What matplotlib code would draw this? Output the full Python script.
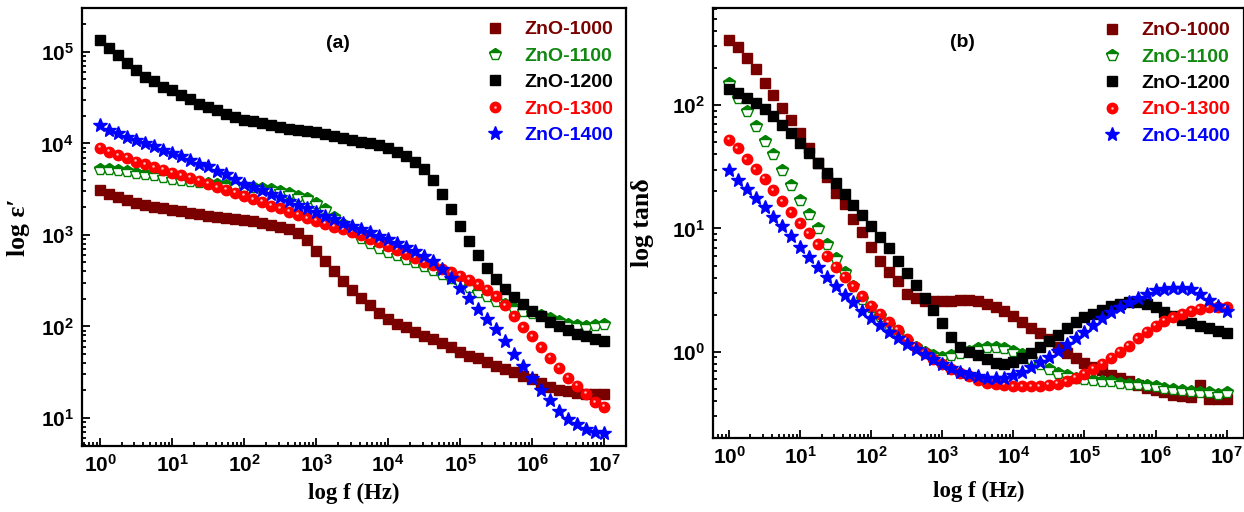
import numpy as np
import matplotlib
matplotlib.use('Agg')
import matplotlib.pyplot as plt
from matplotlib.ticker import FuncFormatter, FixedLocator, LogLocator, NullFormatter
from matplotlib.legend_handler import HandlerTuple
from matplotlib.transforms import offset_copy

plt.rcParams['mathtext.fontset'] = 'custom'
plt.rcParams['mathtext.bf'] = 'Liberation Sans:bold'
plt.rcParams['mathtext.rm'] = 'Liberation Sans:bold'

# measurement grid: 8 points per decade, 1 Hz .. 10 MHz
freq = 10 ** (np.arange(57) / 8)

samples = ['ZnO-1000', 'ZnO-1100', 'ZnO-1200', 'ZnO-1300', 'ZnO-1400']

# (a) log10 of dielectric constant
eps_1000 = [3.49,
            3.45, 3.41, 3.38, 3.35, 3.33, 3.31, 3.29, 3.27,
            3.26, 3.24, 3.23, 3.21, 3.20, 3.19, 3.17, 3.16,
            3.15, 3.13, 3.11, 3.09, 3.06, 3.02, 2.94, 2.82,
            2.72, 2.61, 2.50, 2.40, 2.31, 2.23, 2.15, 2.08,
            2.03, 1.99, 1.94, 1.90, 1.86, 1.82, 1.77, 1.72,
            1.68, 1.65, 1.61, 1.57, 1.54, 1.50, 1.46, 1.42,
            1.38, 1.34, 1.31, 1.29, 1.27, 1.26, 1.26, 1.26]
eps_1100 = [3.72,
            3.72, 3.71, 3.70, 3.68, 3.67, 3.65, 3.63, 3.61,
            3.60, 3.59, 3.58, 3.57, 3.56, 3.55, 3.54, 3.53,
            3.52, 3.51, 3.50, 3.48, 3.46, 3.43, 3.40, 3.35,
            3.28, 3.20, 3.12, 3.04, 2.97, 2.91, 2.86, 2.81,
            2.78, 2.74, 2.70, 2.66, 2.62, 2.57, 2.53, 2.48,
            2.43, 2.38, 2.33, 2.28, 2.24, 2.20, 2.17, 2.15,
            2.12, 2.09, 2.06, 2.03, 2.01, 2.00, 2.01, 2.03]
eps_1200 = [5.13,
            5.04, 4.97, 4.88, 4.80, 4.73, 4.68, 4.62, 4.58,
            4.53, 4.48, 4.43, 4.40, 4.36, 4.32, 4.29, 4.26,
            4.24, 4.22, 4.20, 4.18, 4.16, 4.15, 4.13, 4.12,
            4.10, 4.08, 4.06, 4.04, 4.02, 4.00, 3.98, 3.95,
            3.91, 3.86, 3.80, 3.72, 3.60, 3.45, 3.28, 3.10,
            2.93, 2.78, 2.64, 2.52, 2.41, 2.32, 2.24, 2.17,
            2.11, 2.05, 2.00, 1.96, 1.92, 1.89, 1.86, 1.84]
eps_1300 = [3.95,
            3.91, 3.87, 3.84, 3.80, 3.77, 3.74, 3.71, 3.68,
            3.65, 3.62, 3.59, 3.56, 3.52, 3.49, 3.46, 3.43,
            3.39, 3.36, 3.32, 3.29, 3.25, 3.22, 3.18, 3.15,
            3.12, 3.09, 3.06, 3.03, 3.00, 2.96, 2.92, 2.88,
            2.84, 2.79, 2.75, 2.70, 2.67, 2.63, 2.59, 2.55,
            2.51, 2.46, 2.40, 2.33, 2.23, 2.11, 1.99, 1.89,
            1.77, 1.66, 1.55, 1.44, 1.35, 1.26, 1.17, 1.12]
eps_1400 = [4.20,
            4.15, 4.11, 4.07, 4.04, 4.00, 3.97, 3.93, 3.89,
            3.86, 3.82, 3.78, 3.75, 3.70, 3.66, 3.61, 3.56,
            3.52, 3.49, 3.45, 3.41, 3.37, 3.33, 3.29, 3.25,
            3.21, 3.17, 3.13, 3.10, 3.06, 3.03, 2.99, 2.95,
            2.91, 2.87, 2.82, 2.77, 2.71, 2.63, 2.53, 2.42,
            2.31, 2.19, 2.08, 1.97, 1.84, 1.70, 1.57, 1.44,
            1.31, 1.20, 1.08, 0.99, 0.93, 0.88, 0.85, 0.83]

# (b) log10 of loss tangent
tan_1000 = [2.53,
            2.47, 2.38, 2.29, 2.18, 2.08, 1.98, 1.88, 1.77,
            1.65, 1.53, 1.42, 1.29, 1.20, 1.08, 0.97, 0.85,
            0.74, 0.65, 0.57, 0.47, 0.44, 0.41, 0.41, 0.41,
            0.41, 0.42, 0.42, 0.41, 0.39, 0.36, 0.33, 0.29,
            0.24, 0.19, 0.15, 0.10, 0.04, -0.01, -0.05, -0.09,
            -0.12, -0.15, -0.19, -0.21, -0.24, -0.27, -0.29, -0.31,
            -0.33, -0.35, -0.36, -0.37, -0.27, -0.38, -0.38, -0.38]
tan_1100 = [2.18,
            2.06, 1.95, 1.83, 1.71, 1.60, 1.47, 1.35, 1.23,
            1.12, 1.00, 0.87, 0.76, 0.65, 0.53, 0.43, 0.36,
            0.29, 0.22, 0.15, 0.09, 0.04, 0.00, -0.03, -0.04,
            -0.03, -0.01, 0.01, 0.03, 0.04, 0.04, 0.03, 0.01,
            -0.02, -0.06, -0.10, -0.14, -0.17, -0.19, -0.21, -0.22,
            -0.23, -0.24, -0.24, -0.25, -0.26, -0.26, -0.27, -0.28,
            -0.29, -0.30, -0.31, -0.32, -0.33, -0.33, -0.34, -0.33]
tan_1200 = [2.13,
            2.10, 2.06, 2.02, 1.97, 1.91, 1.84, 1.77, 1.69,
            1.61, 1.53, 1.45, 1.37, 1.28, 1.19, 1.11, 1.02,
            0.93, 0.84, 0.74, 0.64, 0.54, 0.44, 0.34, 0.23,
            0.12, 0.04, 0.00, -0.03, -0.06, -0.09, -0.10, -0.08,
            -0.05, -0.01, 0.04, 0.09, 0.14, 0.19, 0.24, 0.28,
            0.31, 0.34, 0.37, 0.39, 0.40, 0.40, 0.39, 0.36,
            0.32, 0.29, 0.26, 0.23, 0.21, 0.19, 0.17, 0.15]
tan_1300 = [1.72,
            1.65, 1.56, 1.48, 1.40, 1.31, 1.22, 1.13, 1.04,
            0.96, 0.87, 0.78, 0.69, 0.61, 0.53, 0.45, 0.37,
            0.31, 0.24, 0.18, 0.10, 0.04, -0.01, -0.06, -0.10,
            -0.14, -0.17, -0.20, -0.23, -0.25, -0.26, -0.27, -0.28,
            -0.28, -0.28, -0.28, -0.27, -0.26, -0.24, -0.21, -0.18,
            -0.14, -0.10, -0.05, 0.00, 0.05, 0.11, 0.16, 0.21,
            0.25, 0.28, 0.31, 0.33, 0.35, 0.36, 0.36, 0.36]
tan_1400 = [1.47,
            1.39, 1.32, 1.25, 1.17, 1.09, 1.02, 0.94, 0.85,
            0.77, 0.69, 0.61, 0.53, 0.46, 0.40, 0.33, 0.27,
            0.22, 0.16, 0.11, 0.06, 0.02, -0.02, -0.06, -0.10,
            -0.13, -0.16, -0.18, -0.20, -0.21, -0.21, -0.21, -0.19,
            -0.16, -0.12, -0.08, -0.04, 0.01, 0.06, 0.11, 0.16,
            0.22, 0.27, 0.32, 0.36, 0.40, 0.44, 0.47, 0.50,
            0.51, 0.52, 0.52, 0.51, 0.47, 0.42, 0.37, 0.33]

eps_all = [eps_1000, eps_1100, eps_1200, eps_1300, eps_1400]
tan_all = [tan_1000, tan_1100, tan_1200, tan_1300, tan_1400]

x_decades = [0, 1, 2, 3, 4, 5, 6, 7]
eps_decades = [1, 2, 3, 4, 5]
tan_decades = [0, 1, 2]

colors = ['#7a0000', '#008000', '#000000', '#ff0000', '#0000ff']
text_colors = ['#7a0000', '#118811', '#000000', '#ff0000', '#0000ff']
markers = [dict(marker='s', ms=6.5),
           dict(marker='p', ms=8.5, fillstyle='top', markerfacecoloralt='white'),
           dict(marker='s', ms=6.5),
           dict(marker='o', ms=7.5),
           dict(marker='*', ms=10.5)]

SANS = {'family': 'Liberation Sans', 'weight': 'bold'}
SERIF = ['Liberation Serif', 'DejaVu Serif']


def decade_label(v, pos):
    return r'$\mathbf{10^{%d}}$' % int(round(np.log10(v)))


def draw_panel(ax, data, ylim, ydec, ylabel, tag, ylab_x, xlab_y, leg_pad):
    handles = []
    for vals, name, c, mk in zip(data, samples, colors, markers):
        y = 10 ** np.array(vals)
        line, = ax.plot(freq, y, linestyle='none', color=c, mfc=c, mec=c,
                        mew=1.0, label=name, **mk)
        if mk['marker'] == 'o':
            # glossy highlight on the red spheres
            tr = offset_copy(ax.transData, fig=ax.figure, x=-1.1, y=1.2,
                             units='points')
            hl, = ax.plot(freq, y, linestyle='none', marker='o', ms=1.8,
                          mfc='#ffc4c4', mec='none', transform=tr)
            handles.append((line, hl))
        else:
            handles.append(line)

    ax.set_xscale('log')
    ax.set_yscale('log')
    ax.set_xlim(0.56, 2.0e7)
    ax.set_ylim(*ylim)
    ax.xaxis.set_major_locator(FixedLocator([10.0 ** k for k in x_decades]))
    ax.yaxis.set_major_locator(FixedLocator([10.0 ** k for k in ydec]))
    for axis in (ax.xaxis, ax.yaxis):
        axis.set_minor_locator(LogLocator(base=10, subs=np.arange(2, 10),
                                          numticks=30))
        axis.set_major_formatter(FuncFormatter(decade_label))
        axis.set_minor_formatter(NullFormatter())
    ax.tick_params(which='both', direction='in', top=False, right=False,
                   width=1.3, labelsize=15)
    ax.tick_params(which='major', length=6, pad=6)
    ax.tick_params(which='minor', length=3)
    for s in ax.spines.values():
        s.set_linewidth(1.6)

    ax.set_xlabel('log f (Hz)', fontfamily=SERIF, fontweight='bold',
                  fontsize=16.5)
    ax.xaxis.set_label_coords(0.5, xlab_y)
    ax.set_ylabel(ylabel, fontfamily=SERIF, fontweight='bold', fontsize=18.5)
    ax.yaxis.set_label_coords(ylab_x, 0.5)
    ax.text(0.47, 0.92, tag, transform=ax.transAxes, ha='center', va='center',
            fontsize=14, **SANS)

    leg = ax.legend(handles, samples, loc='upper right', frameon=False,
                    prop=dict(size=14, **SANS), handlelength=1.0,
                    handletextpad=1.0, labelspacing=0.45, borderaxespad=leg_pad,
                    handler_map={tuple: HandlerTuple(ndivide=1)})
    for t, c in zip(leg.get_texts(), text_colors):
        t.set_color(c)


fig = plt.figure(figsize=(12.44, 5.12), dpi=100)
ax1 = fig.add_axes([0.0659, 0.129, 0.4373, 0.855])
ax2 = fig.add_axes([0.5732, 0.1445, 0.4264, 0.8395])

draw_panel(ax1, eps_all, (4.94, 3.0e5), eps_decades, 'log ε′', '(a)',
           -0.096, -0.085, 0.25)
draw_panel(ax2, tan_all, (0.20, 610), tan_decades, 'log tanδ', '(b)',
           -0.112, -0.10, 0.3)
ax2.set_xlim(0.596, 1.73e7)

fig.savefig('out.png', dpi=100)
